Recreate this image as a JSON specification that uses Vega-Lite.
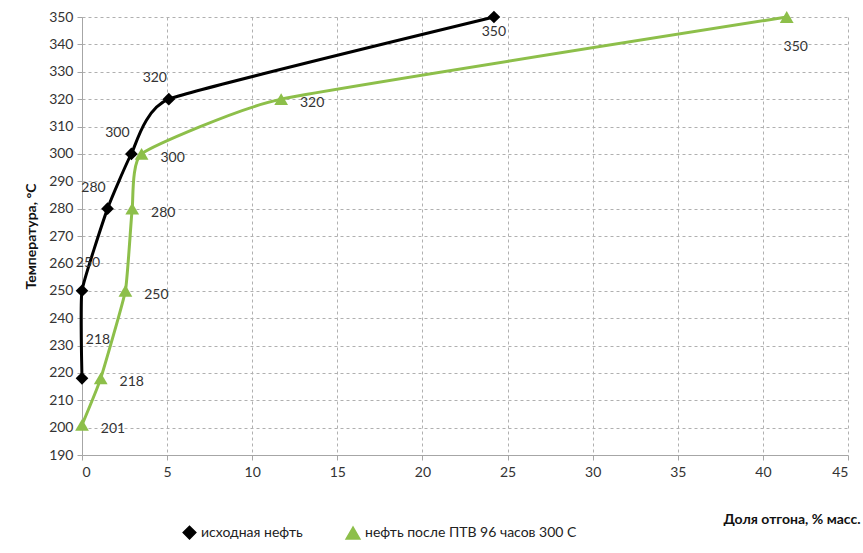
{
  "$schema": "https://vega.github.io/schema/vega-lite/v6.json",
  "autosize": {"type": "none"},
  "padding": {"left": 82, "top": 17, "right": 15, "bottom": 98},
  "width": 766,
  "height": 438,
  "background": "white",
  "config": {
    "font": "Lato",
    "view": {"stroke": null},
    "axis": {"labelFont": "Lato", "labelFontSize": 14, "labelColor": "#333333", "domainColor": "#a6a6a6", "tickColor": "#a6a6a6", "gridColor": "#b0b0b0", "gridDash": [3, 3], "titleFont": "Lato", "titleFontWeight": "bold", "titleFontSize": 14, "titleColor": "#111111"}
  },
  "data": {"values": [
    {"series": "исходная нефть", "x": 0, "t": 218},
    {"series": "исходная нефть", "x": 0, "t": 250},
    {"series": "исходная нефть", "x": 1.5, "t": 280},
    {"series": "исходная нефть", "x": 2.9, "t": 300},
    {"series": "исходная нефть", "x": 5.1, "t": 320},
    {"series": "исходная нефть", "x": 24.2, "t": 350},
    {"series": "нефть после ПТВ 96 часов 300 С", "x": 0, "t": 201},
    {"series": "нефть после ПТВ 96 часов 300 С", "x": 1.1, "t": 218},
    {"series": "нефть после ПТВ 96 часов 300 С", "x": 2.55, "t": 250},
    {"series": "нефть после ПТВ 96 часов 300 С", "x": 2.95, "t": 280},
    {"series": "нефть после ПТВ 96 часов 300 С", "x": 3.5, "t": 300},
    {"series": "нефть после ПТВ 96 часов 300 С", "x": 11.7, "t": 320},
    {"series": "нефть после ПТВ 96 часов 300 С", "x": 41.4, "t": 350}
  ]},
  "encoding": {
    "x": {"field": "x", "type": "quantitative", "scale": {"domain": [0, 45], "nice": false}, "axis": {"values": [0,5,10,15,20,25,30,35,40,45], "title": "Доля отгона, % масс.", "titleAnchor": "end", "titleAlign": "right", "titleX": 778, "titleY": 57, "labelPadding": 5, "tickSize": 5}},
    "y": {"field": "t", "type": "quantitative", "scale": {"domain": [190, 350], "nice": false, "zero": false}, "axis": {"values": [190,200,210,220,230,240,250,260,270,280,290,300,310,320,330,340,350], "title": "Температура, °С", "titlePadding": 10, "tickSize": 5, "labelPadding": 4}}
  },
  "layer": [
    {
      "mark": {"type": "line", "interpolate": "cardinal", "tension": 0.6, "strokeWidth": 3},
      "encoding": {
        "order": {"field": "t", "type": "quantitative"},
        "color": {"field": "series", "type": "nominal", "scale": {"domain": ["исходная нефть", "нефть после ПТВ 96 часов 300 С"], "range": ["#000000", "#8dbf4a"]}, "legend": {"title": null, "orient": "none", "legendX": 100, "legendY": 508, "direction": "horizontal", "labelFont": "Lato", "labelFontSize": 14, "labelColor": "#222222", "columnPadding": 40, "symbolSize": 120, "labelLimit": 400}}
      }
    },
    {
      "mark": {"type": "point", "filled": true, "opacity": 1},
      "encoding": {
        "color": {"field": "series", "type": "nominal", "scale": {"domain": ["исходная нефть", "нефть после ПТВ 96 часов 300 С"], "range": ["#000000", "#8dbf4a"]}, "legend": {"title": null, "orient": "none", "legendX": 100, "legendY": 508, "direction": "horizontal", "labelFont": "Lato", "labelFontSize": 14, "labelColor": "#222222", "columnPadding": 40, "symbolSize": 120, "labelLimit": 400}},
        "shape": {"field": "series", "type": "nominal", "scale": {"domain": ["исходная нефть", "нефть после ПТВ 96 часов 300 С"], "range": ["diamond", "triangle-up"]}},
        "size": {"field": "series", "type": "nominal", "scale": {"domain": ["исходная нефть", "нефть после ПТВ 96 часов 300 С"], "range": [160, 190]}, "legend": null}
      }
    },
    {
      "transform": [{"filter": "datum.series == 'исходная нефть' && datum.t >= 280 && datum.t <= 320"}],
      "mark": {"type": "text", "dx": -14, "dy": -21, "fontSize": 14, "color": "#333333"},
      "encoding": {"text": {"field": "t", "type": "quantitative"}}
    },
    {
      "transform": [{"filter": "datum.series == 'исходная нефть' && datum.t == 250"}],
      "mark": {"type": "text", "dx": 6, "dy": -28, "fontSize": 14, "color": "#333333"},
      "encoding": {"text": {"field": "t", "type": "quantitative"}}
    },
    {
      "transform": [{"filter": "datum.series == 'исходная нефть' && datum.t == 350"}],
      "mark": {"type": "text", "dx": 0, "dy": 15, "fontSize": 14, "color": "#333333"},
      "encoding": {"text": {"field": "t", "type": "quantitative"}}
    },
    {
      "transform": [{"filter": "datum.series == 'исходная нефть' && datum.t == 218"}],
      "mark": {"type": "text", "dx": 16, "dy": -38, "fontSize": 14, "color": "#333333"},
      "encoding": {"text": {"field": "t", "type": "quantitative"}}
    },
    {
      "transform": [{"filter": "datum.series != 'исходная нефть' && datum.t != 350"}],
      "mark": {"type": "text", "dx": 31, "dy": 4, "fontSize": 14, "color": "#333333"},
      "encoding": {"text": {"field": "t", "type": "quantitative"}}
    },
    {
      "transform": [{"filter": "datum.series != 'исходная нефть' && datum.t == 350"}],
      "mark": {"type": "text", "dx": 9, "dy": 30, "fontSize": 14, "color": "#333333"},
      "encoding": {"text": {"field": "t", "type": "quantitative"}}
    }
  ]
}
